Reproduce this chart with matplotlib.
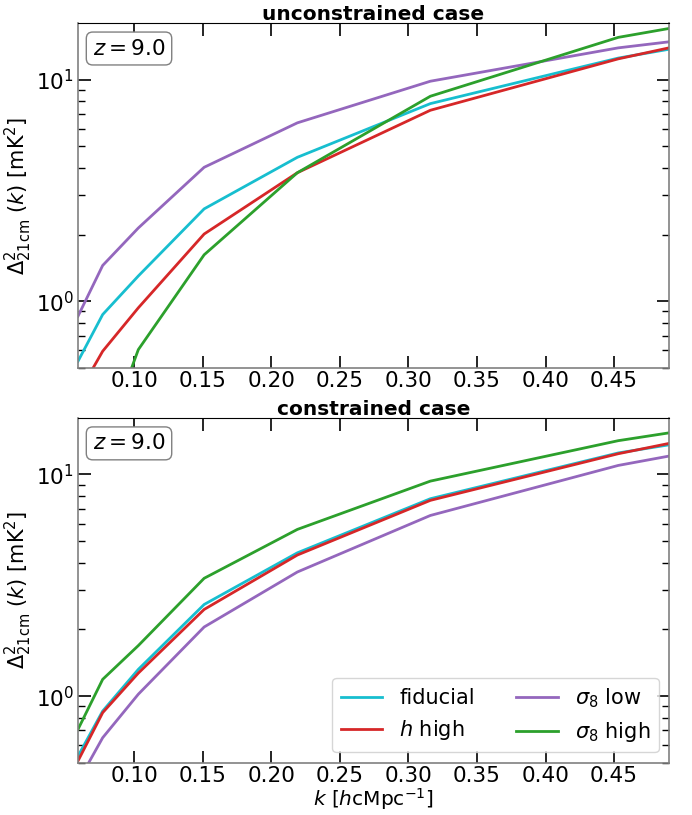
import matplotlib
matplotlib.use("Agg")
import matplotlib.pyplot as plt
import numpy as np

k = [0.059, 0.077, 0.103, 0.151, 0.219, 0.316, 0.453, 0.49]

# unconstrained case
unc_fiducial = [0.536, 0.871, 1.30, 2.61, 4.46, 7.79, 12.5, 13.7]
unc_h_high = [0.38, 0.595, 0.934, 2.01, 3.80, 7.27, 12.4, 13.9]
unc_s8_low = [0.856, 1.45, 2.14, 4.02, 6.38, 9.83, 13.9, 14.8]
unc_s8_high = [0.1, 0.22, 0.605, 1.62, 3.80, 8.41, 15.5, 17.0]

# constrained case
con_fiducial = [0.536, 0.856, 1.32, 2.59, 4.43, 7.77, 12.5, 13.6]
con_h_high = [0.51, 0.842, 1.27, 2.46, 4.33, 7.64, 12.4, 13.8]
con_s8_low = [0.41, 0.649, 1.02, 2.05, 3.63, 6.53, 10.98, 12.1]
con_s8_high = [0.708, 1.19, 1.69, 3.40, 5.65, 9.33, 14.2, 15.4]

labels = ["fiducial", r"$h$ high", r"$\sigma_8$ low", r"$\sigma_8$ high"]
colors = ["tab:cyan", "tab:red", "tab:purple", "tab:green"]
titles = ["unconstrained case", "constrained case"]
xticks = [0.10, 0.15, 0.20, 0.25, 0.30, 0.35, 0.40, 0.45]

plt.rcParams["font.size"] = 15
fig = plt.figure(figsize=(6.92, 8.15), dpi=100)
ax1 = fig.add_axes([0.1127, 0.5485, 0.854, 0.4233])
ax2 = fig.add_axes([0.1127, 0.0640, 0.854, 0.4233])

data = [
    [unc_fiducial, unc_h_high, unc_s8_low, unc_s8_high],
    [con_fiducial, con_h_high, con_s8_low, con_s8_high],
]

for ax, series, title in zip([ax1, ax2], data, titles):
    for vals, lab, col in zip(series, labels, colors):
        ax.plot(k, vals, color=col, lw=2, label=lab)
    ax.set_yscale("log")
    ax.set_xlim(0.059, 0.49)
    ax.set_ylim(0.5, 18)
    ax.set_xticks(xticks)
    ax.set_xticklabels([f"{t:.2f}" for t in xticks])
    ax.tick_params(which="major", direction="in", length=9, width=1.2,
                   top=True, right=True, labelsize=15.5, pad=3)
    ax.tick_params(axis="x", which="major", pad=2)
    ax.tick_params(which="minor", direction="in", length=5, width=1,
                   top=False, right=True)
    ax.tick_params(axis="x", which="minor", bottom=False, top=False)
    ax.set_title(title, fontweight="bold", fontsize=14.5, pad=2)
    ax.set_ylabel(r"$\Delta^2_{21\rm cm}$ $(k)$ [mK$^2$]", fontsize=15, labelpad=1)
    for s in ["left", "right", "bottom"]:
        ax.spines[s].set_color("#808080")
        ax.spines[s].set_linewidth(1.2)
    ax.spines["top"].set_color("black")
    ax.text(0.025, 0.955, r"$z = 9.0$", transform=ax.transAxes, fontsize=15.5,
            va="top", ha="left",
            bbox=dict(boxstyle="round,pad=0.3", fc="white", ec="#808080"))

ax2.set_xlabel(r"$k$ [$h$cMpc$^{-1}$]", fontsize=14.5, labelpad=0)
ax2.legend(loc="lower right", ncol=2, fontsize=15, fancybox=True,
           columnspacing=2.0, handlelength=2.0)

fig.savefig("out.png", dpi=100)
